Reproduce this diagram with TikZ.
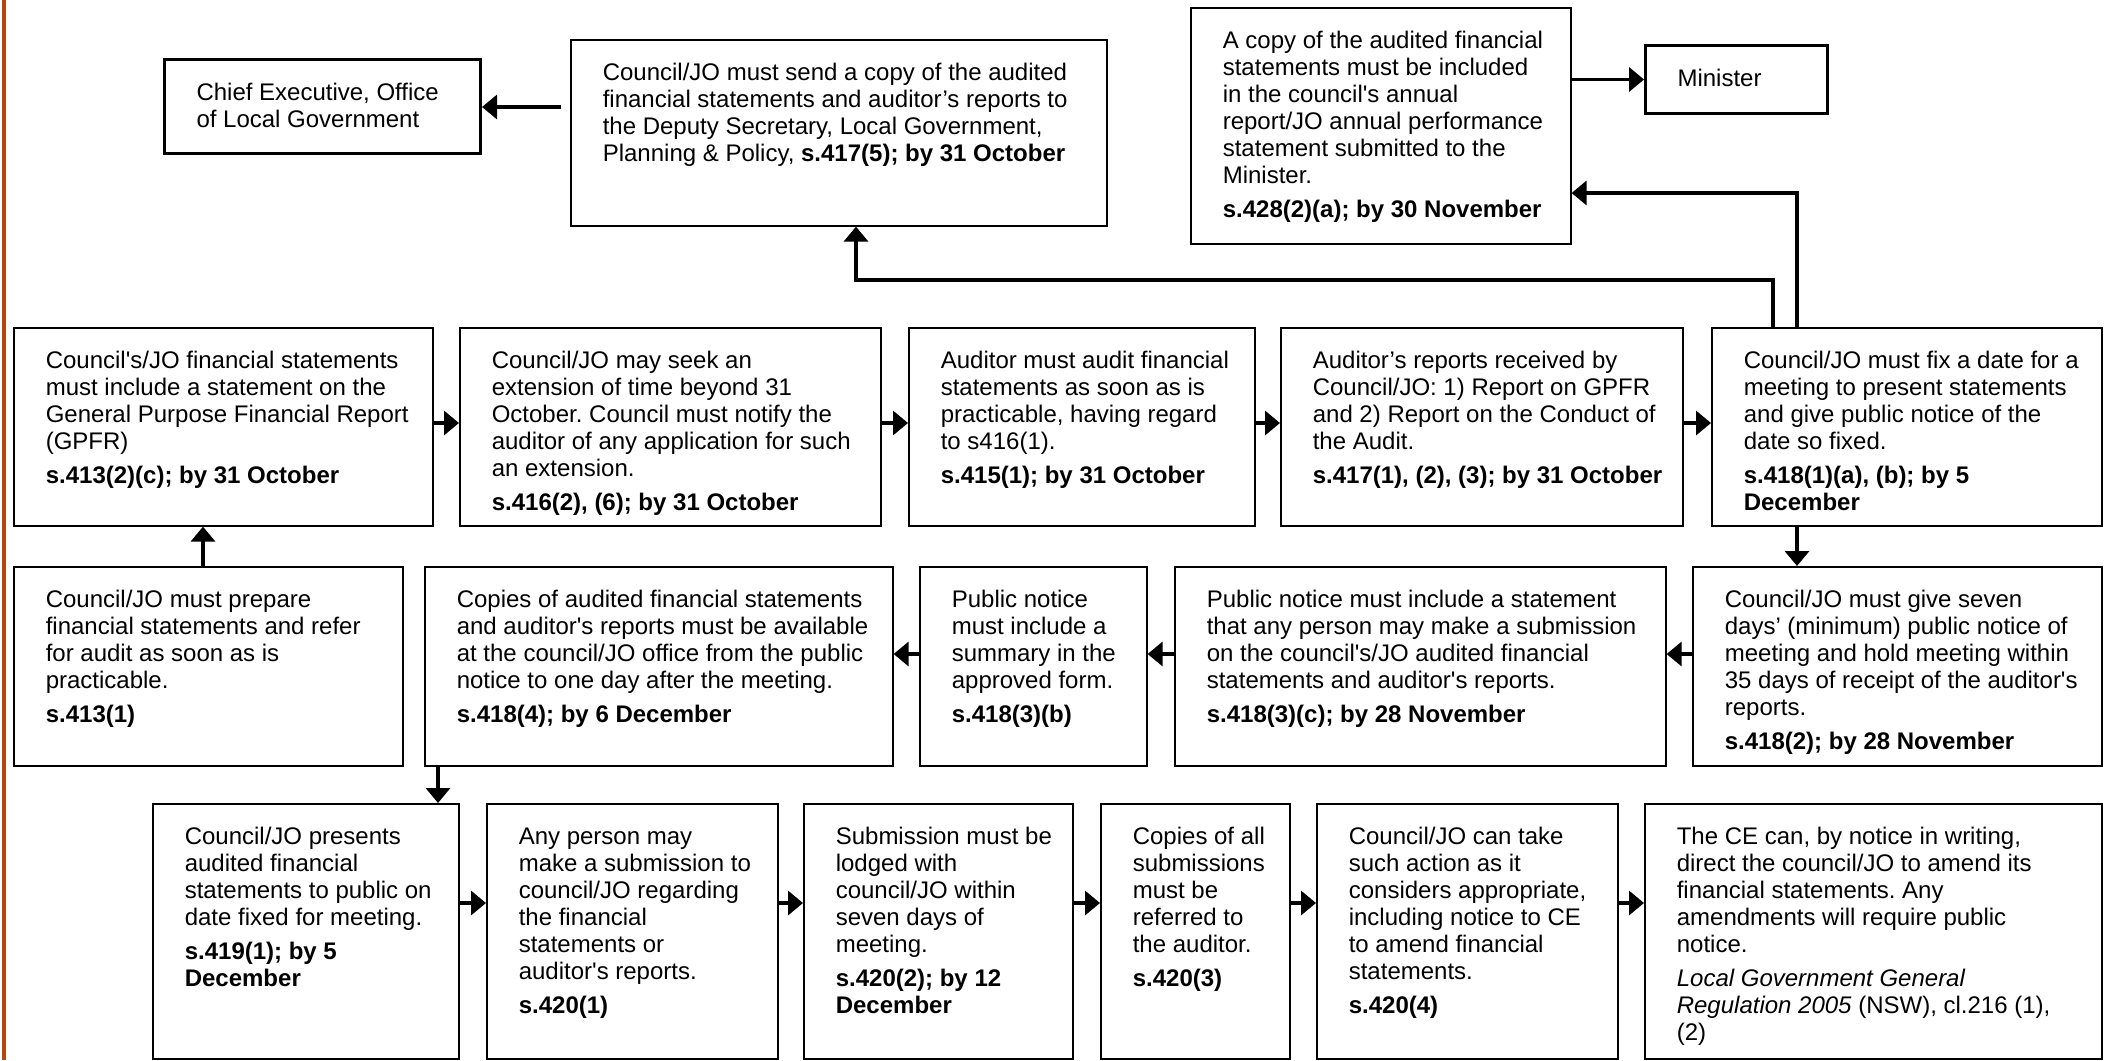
\documentclass[tikz,border=0pt]{standalone}
\usepackage{fontspec}
\setmainfont{Liberation Sans}[Ligatures=TeXOff]
\usetikzlibrary{arrows.meta}
\definecolor{margincol}{RGB}{180,72,12}

% Box body: fixed width/height, text top-left with first baseline 20.5pt down
\newcommand\stepbody[3]{%
  \vbox to #2{%
    \vskip\dimexpr20.5pt-\ht\strutbox\relax
    \hbox to #1{\hskip16pt\parbox[t]{\dimexpr#1-17pt\relax}{\raggedright\strut#3}\hss}%
    \vss}}
% \stepnode[opts]{name}{x1}{y1}{x2}{y2}{text}  (corners in px units)
\newcommand\stepnode[7][]{%
  \node[stepbox,#1] (#2) at (#3,#4)
    {\stepbody{\dimexpr(#5pt-#3pt)/2\relax}{\dimexpr(#6pt-#4pt)/2\relax}{#7}};}
\newcommand\gap{\\[3.2pt]}

\tikzset{
  stepbox/.style={draw, line width=0.8pt, anchor=north west, inner sep=0pt,
    font=\fontsize{12pt}{13.5pt}\selectfont\frenchspacing},
  heavybox/.style={line width=1.5pt},
  conn/.style={line width=1.7pt, -{Triangle[length=7.5pt,width=12pt]}},
}

\begin{document}
\begin{tikzpicture}[x=0.5pt,y=-0.5pt]
\path[use as bounding box, fill=white] (0,0) rectangle (2114,1060);
\fill[margincol] (2,0) rectangle (6,1060);

% top row
\stepnode[heavybox]{ce}{163}{58}{479}{152}{Chief Executive, Office\\of Local Government}
\stepnode{ds}{570}{39}{1106}{225}{Council/JO must send a copy of the audited\\financial statements and auditor’s reports to\\the Deputy Secretary, Local Government,\\Planning \& Policy, \textbf{s.417(5); by 31 October}}
\stepnode{copy}{1190}{7}{1570}{243}{A copy of the audited financial\\statements must be included\\in the council's annual\\report/JO annual performance\\statement submitted to the\\Minister.\gap\textbf{s.428(2)(a); by 30 November}}
\stepnode[heavybox]{mn}{1644}{44}{1826}{112}{Minister}

% second row
\stepnode{b1}{13}{327}{432}{525}{Council's/JO financial statements\\must include a statement on the\\General Purpose Financial Report\\(GPFR)\gap\textbf{s.413(2)(c); by 31 October}}
\stepnode{b2}{459}{327}{880}{525}{Council/JO may seek an\\extension of time beyond 31\\October. Council must notify the\\auditor of any application for such\\an extension.\gap\textbf{s.416(2), (6); by 31 October}}
\stepnode{b3}{908}{327}{1254}{525}{Auditor must audit financial\\statements as soon as is\\practicable, having regard\\to s416(1).\gap\textbf{s.415(1); by 31 October}}
\stepnode{b4}{1280}{327}{1682}{525}{Auditor’s reports received by\\Council/JO: 1) Report on GPFR\\and 2) Report on the Conduct of\\the Audit.\gap\textbf{s.417(1), (2), (3); by 31 October}}
\stepnode{b5}{1711}{327}{2101}{525}{Council/JO must fix a date for a\\meeting to present statements\\and give public notice of the\\date so fixed.\gap\textbf{s.418(1)(a), (b); by 5}\\\textbf{December}}

% third row
\stepnode{c1}{13}{566}{402}{765}{Council/JO must prepare\\financial statements and refer\\for audit as soon as is\\practicable.\gap\textbf{s.413(1)}}
\stepnode{c2}{424}{566}{892}{765}{Copies of audited financial statements\\and auditor's reports must be available\\at the council/JO office from the public\\notice to one day after the meeting.\gap\textbf{s.418(4); by 6 December}}
\stepnode{c3}{919}{566}{1146}{765}{Public notice\\must include a\\summary in the\\approved form.\gap\textbf{s.418(3)(b)}}
\stepnode{c4}{1174}{566}{1665}{765}{Public notice must include a statement\\that any person may make a submission\\on the council's/JO audited financial\\statements and auditor's reports.\gap\textbf{s.418(3)(c); by 28 November}}
\stepnode{c5}{1692}{566}{2101}{765}{Council/JO must give seven\\days’ (minimum) public notice of\\meeting and hold meeting within\\35 days of receipt of the auditor's\\reports.\gap\textbf{s.418(2); by 28 November}}

% bottom row
\stepnode{d1}{152}{803}{458}{1058}{Council/JO presents\\audited financial\\statements to public on\\date fixed for meeting.\gap\textbf{s.419(1); by 5}\\\textbf{December}}
\stepnode{d2}{486}{803}{777}{1058}{Any person may\\make a submission to\\council/JO regarding\\the financial\\statements or\\auditor's reports.\gap\textbf{s.420(1)}}
\stepnode{d3}{803}{803}{1072}{1058}{Submission must be\\lodged with\\council/JO within\\seven days of\\meeting.\gap\textbf{s.420(2); by 12}\\\textbf{December}}
\stepnode{d4}{1100}{803}{1289}{1058}{Copies of all\\submissions\\must be\\referred to\\the auditor.\gap\textbf{s.420(3)}}
\stepnode{d5}{1316}{803}{1617}{1058}{Council/JO can take\\such action as it\\considers appropriate,\\including notice to CE\\to amend financial\\statements.\gap\textbf{s.420(4)}}
\stepnode{d6}{1644}{803}{2101}{1058}{The CE can, by notice in writing,\\direct the council/JO to amend its\\financial statements. Any\\amendments will require public\\notice.\gap\textit{Local Government General}\\\textit{Regulation 2005} (NSW), cl.216 (1),\\(2)}

% routing points
\coordinate (ceY) at (0,107);
\coordinate (uA) at (1797,193);
\coordinate (uB) at (1773,280);
\coordinate (uC) at (856,280);
\coordinate (rowB) at (0,423);
\coordinate (rowC) at (0,654);
\coordinate (rowD) at (0,903);
\coordinate (dnC) at (438,0);
\coordinate (upC) at (203,0);

% connectors, top
\draw[conn, shorten <=4.5pt] (ds.west |- ceY) -- (ce.east |- ceY);
\draw[conn] (copy.east |- mn.west) -- (mn.west);
\draw[conn] (uA |- b5.north) -- (uA) -- (copy.east |- uA);
\draw[conn] (uB |- b5.north) -- (uB) -- (uC) -- (uC |- ds.south);

% second row
\draw[conn] (b1.east |- rowB) -- (b2.west |- rowB);
\draw[conn] (b2.east |- rowB) -- (b3.west |- rowB);
\draw[conn] (b3.east |- rowB) -- (b4.west |- rowB);
\draw[conn] (b4.east |- rowB) -- (b5.west |- rowB);
\draw[conn] (uA |- b5.south) -- (uA |- c5.north);

% third row
\draw[conn] (c5.west |- rowC) -- (c4.east |- rowC);
\draw[conn] (c4.west |- rowC) -- (c3.east |- rowC);
\draw[conn] (c3.west |- rowC) -- (c2.east |- rowC);
\draw[conn] (upC |- c1.north) -- (upC |- b1.south);
\draw[conn] (dnC |- c2.south) -- (dnC |- d1.north);

% bottom row
\draw[conn] (d1.east |- rowD) -- (d2.west |- rowD);
\draw[conn] (d2.east |- rowD) -- (d3.west |- rowD);
\draw[conn] (d3.east |- rowD) -- (d4.west |- rowD);
\draw[conn] (d4.east |- rowD) -- (d5.west |- rowD);
\draw[conn] (d5.east |- rowD) -- (d6.west |- rowD);
\end{tikzpicture}
\end{document}
